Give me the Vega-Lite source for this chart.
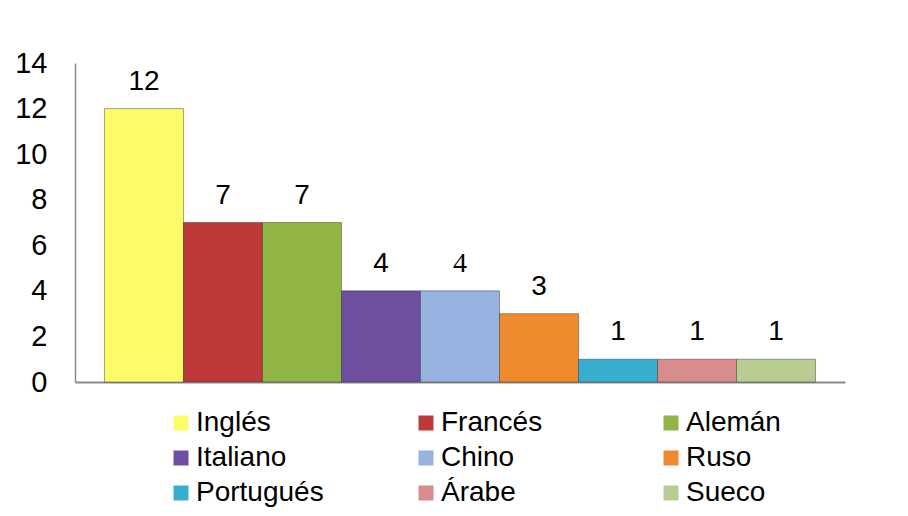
{
  "$schema": "https://vega.github.io/schema/vega-lite/v6.json",
  "width": 770,
  "height": 319,
  "autosize": {"type": "none"},
  "padding": {"left": 75, "top": 63, "right": 63, "bottom": 134},
  "background": "#ffffff",
  "config": {"view": {"stroke": null}, "font": "Liberation Sans"},
  "data": {
    "values": [
      {"idioma": "Inglés", "valor": 12},
      {"idioma": "Francés", "valor": 7},
      {"idioma": "Alemán", "valor": 7},
      {"idioma": "Italiano", "valor": 4},
      {"idioma": "Chino", "valor": 4},
      {"idioma": "Ruso", "valor": 3},
      {"idioma": "Portugués", "valor": 1},
      {"idioma": "Árabe", "valor": 1},
      {"idioma": "Sueco", "valor": 1}
    ]
  },
  "encoding": {
    "x": {
      "field": "idioma",
      "type": "nominal",
      "sort": null,
      "scale": {"paddingInner": 0, "paddingOuter": 0.373},
      "axis": {"title": null, "labels": false, "ticks": false, "grid": false, "domain": true, "domainColor": "#8a8a8a", "domainWidth": 2}
    },
    "y": {
      "field": "valor",
      "type": "quantitative",
      "scale": {"domain": [0, 14], "nice": false},
      "axis": {
        "title": null,
        "values": [0, 2, 4, 6, 8, 10, 12, 14],
        "ticks": false,
        "grid": false,
        "domain": true,
        "domainColor": "#8a8a8a",
        "domainWidth": 1.5,
        "labelFont": "Liberation Sans",
        "labelFontSize": 29,
        "labelColor": "#000000",
        "labelPadding": 28
      }
    }
  },
  "layer": [
    {
      "mark": {"type": "bar", "stroke": "#222222", "strokeOpacity": 0.4, "strokeWidth": 1},
      "encoding": {
        "color": {
          "field": "idioma",
          "type": "nominal",
          "sort": null,
          "scale": {
            "domain": ["Inglés", "Francés", "Alemán", "Italiano", "Chino", "Ruso", "Portugués", "Árabe", "Sueco"],
            "range": ["#fcfc66", "#bd3a38", "#90b544", "#6f4f9f", "#98b3df", "#ef8a2f", "#38aecf", "#d98c8c", "#b7cc90"]
          },
          "legend": {
            "title": null,
            "orient": "none",
            "legendX": 92,
            "legendY": 346,
            "direction": "horizontal",
            "columns": 3,
            "gridAlign": "all",
            "columnPadding": 88,
            "rowPadding": 7,
            "padding": 0,
            "symbolType": "square",
            "symbolSize": 225,
            "symbolStrokeWidth": 0,
            "symbolOpacity": 1,
            "labelFont": "Liberation Sans",
            "labelFontSize": 28,
            "labelColor": "#000000",
            "labelOffset": 1,
            "labelLimit": 400
          }
        }
      }
    },
    {
      "transform": [{"filter": "datum.idioma !== 'Chino'"}],
      "mark": {"type": "text", "font": "Liberation Sans", "fontSize": 28, "baseline": "middle", "dy": -27, "color": "#000000"},
      "encoding": {"text": {"field": "valor", "type": "quantitative"}}
    },
    {
      "transform": [{"filter": "datum.idioma === 'Chino'"}],
      "mark": {"type": "text", "font": "Liberation Serif", "fontSize": 28, "baseline": "middle", "dy": -27, "color": "#000000"},
      "encoding": {"text": {"field": "valor", "type": "quantitative"}}
    }
  ]
}
